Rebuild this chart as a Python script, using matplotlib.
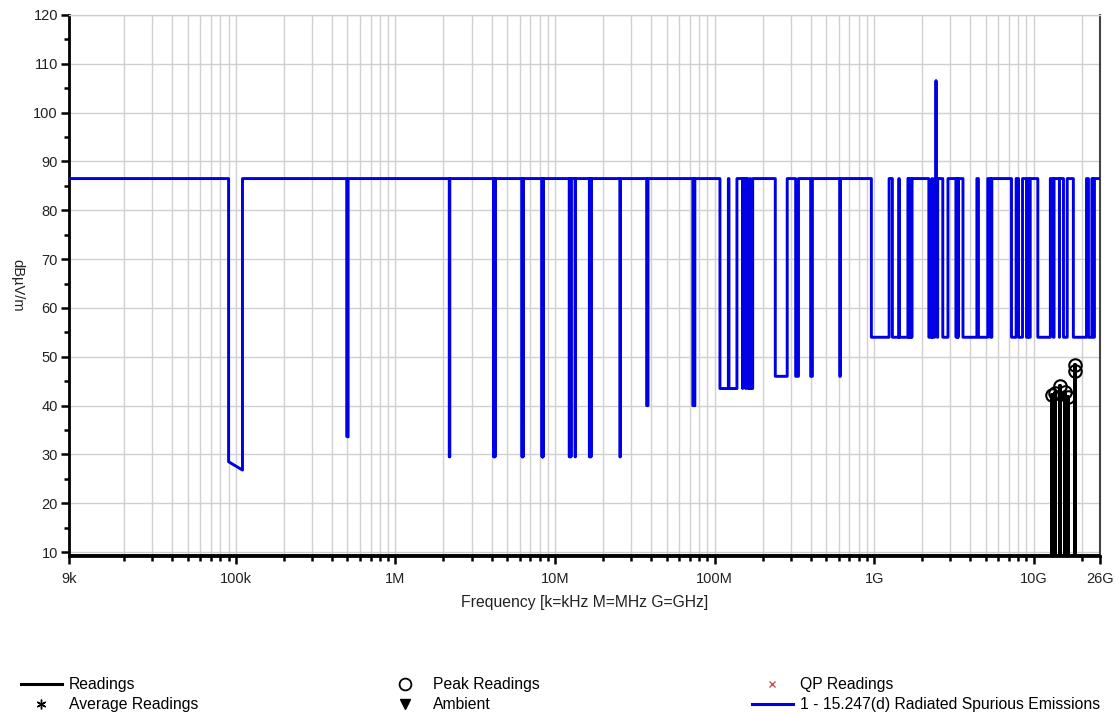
import matplotlib
matplotlib.use("Agg")
import matplotlib.pyplot as plt
from matplotlib.lines import Line2D
import numpy as np

plt.rcParams['font.family'] = ['Liberation Sans', 'DejaVu Sans']

# Limit line: 15.247(d) -20 dBc level, with 15.205 restricted bands at 15.209 limits
base_limit = 86.5
start_mhz, stop_mhz = 0.009, 26000.0
spike_mhz = 2440.0
spike_level = 106.5

lf_bands = [(0.090, 0.110), (0.495, 0.505)]
lf_levels = [(28.5, 26.8), (33.7, 33.6)]

hf_bands = [(2.1735, 2.1905), (4.125, 4.128), (4.17725, 4.17775), (4.20725, 4.20775),
            (6.215, 6.218), (6.26775, 6.26825), (6.31175, 6.31225), (8.291, 8.294),
            (8.362, 8.366), (8.37625, 8.38675), (8.41425, 8.41475), (12.29, 12.293),
            (12.51975, 12.52025), (12.57675, 12.57725), (13.36, 13.41), (16.42, 16.423),
            (16.69475, 16.69525), (16.80425, 16.80475), (25.5, 25.67)]
hf_level = 29.5

vhf_low_bands = [(37.5, 38.25), (73.0, 74.6), (74.8, 75.2)]
vhf_low_level = 40.0

vhf_high_bands = [(108.0, 121.94), (123.0, 138.0), (149.9, 150.05), (156.52475, 156.52525),
                  (156.7, 156.9), (162.0125, 167.17), (167.72, 173.2)]
vhf_high_level = 43.5

uhf_bands = [(240.0, 285.0), (322.0, 335.4), (399.9, 410.0), (608.0, 614.0)]
uhf_level = 46.0

ghz_bands = [(960, 1240), (1300, 1427), (1435, 1626.5), (1645.5, 1646.5), (1660, 1710),
             (1718.8, 1722.2), (2200, 2300), (2310, 2390), (2483.5, 2500), (2690, 2900),
             (3260, 3267), (3332, 3339), (3345.8, 3358), (3600, 4400), (4500, 5150),
             (5350, 5460), (7250, 7750), (8025, 8500), (9000, 9200), (9300, 9500),
             (10600, 12700), (13250, 13400), (14470, 14500), (15350, 16200),
             (17700, 21400), (22010, 23120), (23600, 24000)]
ghz_level = 54.0

# Measured readings (peak)
readings_ghz = [13.0, 13.6, 14.7, 15.8, 16.3, 18.2, 18.2]
readings_dbuv = [42.2, 42.6, 44.0, 42.8, 41.8, 48.4, 47.0]
floor_level = 9.2

# build the limit step line
segs = [(lo, hi, a, b) for (lo, hi), (a, b) in zip(lf_bands, lf_levels)]
segs += [(lo, hi, hf_level, hf_level) for lo, hi in hf_bands]
segs += [(lo, hi, vhf_low_level, vhf_low_level) for lo, hi in vhf_low_bands]
segs += [(lo, hi, vhf_high_level, vhf_high_level) for lo, hi in vhf_high_bands]
segs += [(lo, hi, uhf_level, uhf_level) for lo, hi in uhf_bands]
segs += [(lo, hi, ghz_level, ghz_level) for lo, hi in ghz_bands]
segs.append((spike_mhz, spike_mhz, spike_level, spike_level))
segs.sort()

lim_x = [start_mhz]
lim_y = [base_limit]
for lo, hi, a, b in segs:
    lim_x += [lo, lo, hi, hi]
    lim_y += [base_limit, a, b, base_limit]
lim_x.append(stop_mhz)
lim_y.append(base_limit)
lim_x = np.array(lim_x) * 1e6

rd_x = [start_mhz * 1e6]
rd_y = [floor_level]
for f, v in zip(readings_ghz, readings_dbuv):
    rd_x += [f * 1e9] * 3
    rd_y += [floor_level, v, floor_level]
rd_x.append(stop_mhz * 1e6)
rd_y.append(floor_level)

fig = plt.figure(figsize=(11.19, 7.17), dpi=100)
ax = fig.add_axes([69 / 1119, 161 / 717, 1031 / 1119, 541 / 717])

ax.plot(lim_x, lim_y, color='#0000e6', lw=2.1, zorder=3)
ax.plot(rd_x, rd_y, color='black', lw=2.8, zorder=4)
ax.plot(np.array(readings_ghz) * 1e9, readings_dbuv, 'o', ms=9, mfc='none',
        mec='black', mew=1.5, zorder=5)

ax.set_xscale('log')
ax.set_xlim(9e3, 26e9)
ax.set_ylim(floor_level, 120)

major_x = [9e3, 1e5, 1e6, 1e7, 1e8, 1e9, 1e10, 26e9]
major_lbl = ['9k', '100k', '1M', '10M', '100M', '1G', '10G', '26G']
ax.set_xticks(major_x)
ax.set_xticklabels(major_lbl)
minor_x = [m * 10 ** d for d in range(4, 11) for m in range(2, 10)]
minor_x = [v for v in minor_x if 9e3 < v < 26e9 and v not in major_x]
ax.set_xticks(minor_x, minor=True)
ax.set_xticklabels([], minor=True)

ax.set_yticks(np.arange(10, 121, 10))
ax.set_yticks(np.arange(15, 120, 10), minor=True)

ax.grid(True, which='both', axis='x', color='#d0d0d0', lw=1.0, zorder=0)
ax.grid(True, which='major', axis='y', color='#d0d0d0', lw=1.0, zorder=0)
ax.set_axisbelow(True)

ax.tick_params(which='major', length=6, width=1.8, color='black', labelsize=10.5,
               labelcolor='#222222', pad=2)
ax.tick_params(axis='x', which='major', pad=5.5)
ax.tick_params(which='minor', length=3.5, width=1.8, color='black')

for s in ['left', 'bottom']:
    ax.spines[s].set_linewidth(2)
    ax.spines[s].set_color('black')
ax.spines['right'].set_color('#444444')
ax.spines['right'].set_linewidth(1.5)
ax.spines['top'].set_color('#d0d0d0')
ax.spines['top'].set_linewidth(1)

ax.set_xlabel('Frequency [k=kHz M=MHz G=GHz]', fontsize=11.3, color='#222222', va='center')
ax.xaxis.set_label_coords(0.5, -46 / 541)
ax.set_ylabel('dBµV/m', fontsize=10.5, color='#222222', rotation=270, va='center')
ax.yaxis.set_label_coords(-52 / 1031, 0.5)

# legend: three separate columns
leg_kw = dict(frameon=False, loc='upper left', fontsize=11.3, handlelength=2.6,
              handletextpad=0.45, labelspacing=0.33, borderpad=0, borderaxespad=0)
col1 = [Line2D([], [], color='black', lw=2.2),
        Line2D([], [], ls='none', marker=(6, 2, 0), ms=7, color='black', mew=1)]
col2 = [Line2D([], [], ls='none', marker='o', ms=8.5, mfc='none', mec='black', mew=1.3),
        Line2D([], [], ls='none', marker='v', ms=7, color='black')]
col3 = [Line2D([], [], ls='none', marker='x', ms=5, color='#d05050', mew=1),
        Line2D([], [], color='#0000e6', lw=2.2)]
top_y = 1 - 677 / 717
fig.legend(col1, ['Readings', 'Average Readings'],
           bbox_to_anchor=(21 / 1119, top_y), **leg_kw)
fig.legend(col2, ['Peak Readings', 'Ambient'],
           bbox_to_anchor=(385 / 1119, top_y), **leg_kw)
fig.legend(col3, ['QP Readings', '1 - 15.247(d) Radiated Spurious Emissions'],
           bbox_to_anchor=(752 / 1119, top_y), **leg_kw)

fig.savefig('out.png', dpi=100)
